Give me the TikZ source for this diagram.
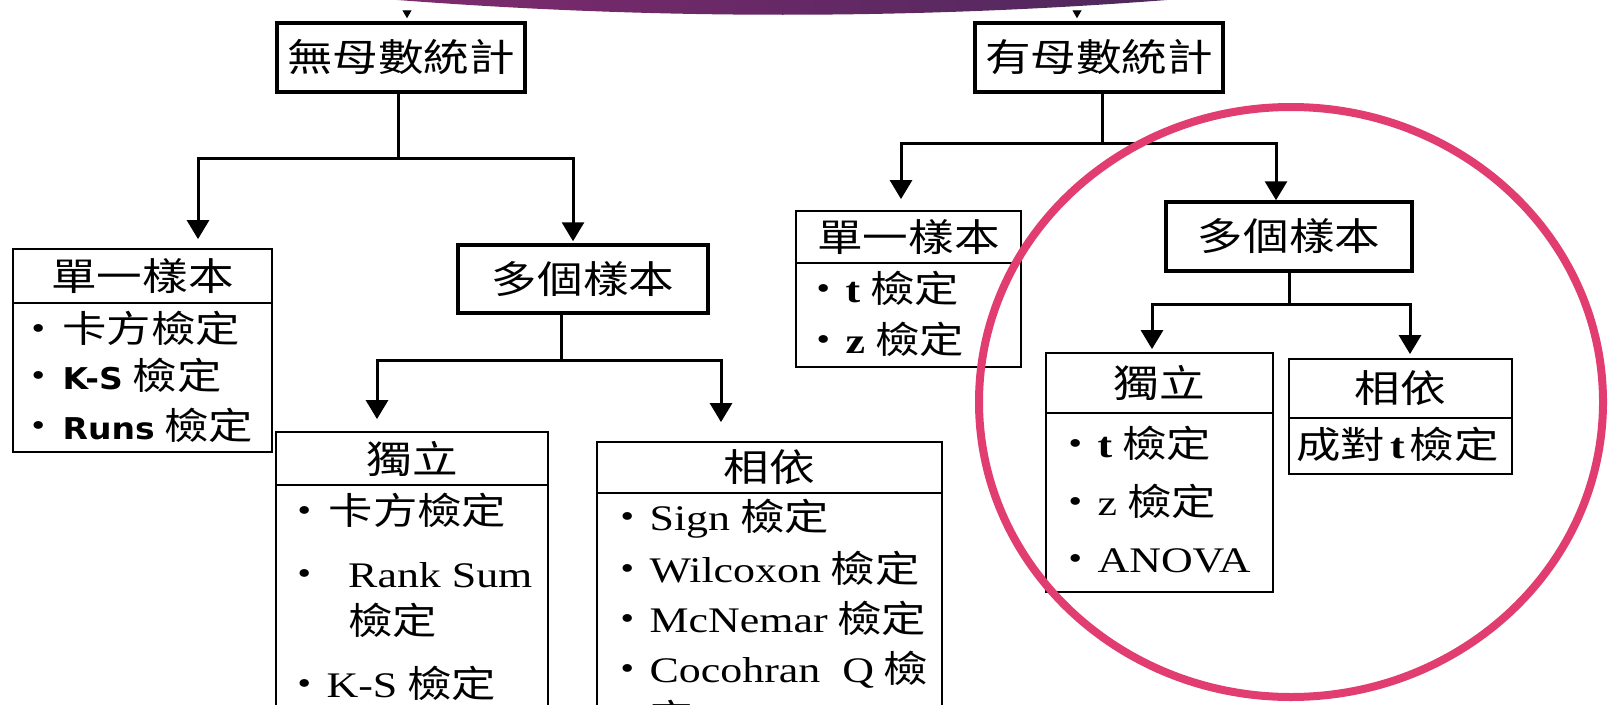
\documentclass[tikz,border=0pt]{standalone}
\usepackage{fontspec}
\usetikzlibrary{arrows.meta}
\newfontfamily\cjk{Noto Sans CJK TC}[FakeStretch=1.2]
\newfontfamily\lat{Liberation Serif}[FakeStretch=1.22]
\newfontfamily\bsans{DejaVu Sans}[FakeStretch=1.1]
\definecolor{ring}{RGB}{226,61,112}
\definecolor{bandL}{RGB}{130,42,112}
\definecolor{bandR}{RGB}{75,40,92}
\newcommand\myLT[1]{{\lat\fontsize{36}{40}\selectfont #1}}
\newcommand\myLB[1]{{\lat\bfseries\fontsize{36}{40}\selectfont #1}}
\newcommand\mySB[1]{{\bsans\bfseries\fontsize{30}{32}\selectfont #1}}
\tikzset{
  hdrfont/.style={font=\cjk\fontsize{38}{40}\selectfont},
  boxthick/.style={draw, line width=3.5pt, inner sep=0pt, hdrfont},
  boxthin/.style={draw, line width=1.8pt, inner sep=0pt, hdrfont},
  item/.style={anchor=base west, inner sep=0pt, font=\cjk\fontsize{37}{40}\selectfont},
  conn/.style={line width=3pt, line cap=rect},
  arr/.style={line width=3pt, -{Triangle[width=22pt,length=19pt]}},
  smallarr/.style={line width=1pt, -{Triangle[width=9pt,length=8pt]}},
}
\begin{document}
\begin{tikzpicture}[x=1pt,y=-1pt]
\useasboundingbox (0,0) rectangle (1613,704);
\fill[white] (0,0) rectangle (1613,704);
\clip (0,0) rectangle (1613,704);

% top band
\shade[left color=bandL, right color=bandR] (348,-4) .. controls (640,21) and (926,21) .. (1216,-4) -- cycle;

% top boxes
\node[boxthick, minimum width=248pt, minimum height=69pt] (A) at (401,57.5) {無母數統計};
\node[boxthick, minimum width=248pt, minimum height=69pt] (B) at (1099,57.5) {有母數統計};
\coordinate (tA) at (407,11);
\coordinate (tB) at (1077,11);
\draw[smallarr, shorten >=3pt] (tA) -- (tA |- A.north);
\draw[smallarr, shorten >=3pt] (tB) -- (tB |- B.north);

% ---------- left tree ----------
\node[boxthin, minimum width=259pt, minimum height=54pt] (Ch) at (142.5,276) {單一樣本};
\node[boxthin, minimum width=259pt, minimum height=149pt] (Cb) at (142.5,377.5) {};
\node[item] (c1) at (16,342) {・\hspace{2pt}卡方檢定};
\node[item] (c2) at (16,389) {・\hspace{2pt}\mySB{K-S} 檢定};
\node[item] (c3) at (16,439) {・\hspace{2pt}\mySB{Runs} 檢定};

\node[boxthick, minimum width=250pt, minimum height=68pt] (D) at (583,279) {多個樣本};

\coordinate (Lj) at (398,158);
\coordinate (Ll) at (198,158);
\coordinate (Lr) at (573,158);
\draw[conn] (A.south -| Lj) -- (Lj);
\draw[conn] (Ll) -- (Lr);
\draw[arr, shorten >=9pt] (Ll) -- (Ll |- Ch.north);
\draw[arr, shorten >=2pt] (Lr) -- (Lr |- D.north);

\node[boxthin, minimum width=272pt, minimum height=53pt] (Eh) at (412,458.5) {獨立};
\node[boxthin, minimum width=272pt, minimum height=255pt] (Eb) at (412,612.5) {};
\node[item] (e1) at (282,524) {・\hspace{2pt}卡方檢定};
\node[item] (e2) at (282,587) {・};
\node[item] (e2b) at (348,587) {\myLT{Rank Sum}};
\node[item] (e3) at (348,634) {檢定};
\node[item] (e4) at (282,697) {・\myLT{K-S} 檢定};

\node[boxthin, minimum width=345pt, minimum height=51pt] (Fh) at (769.5,467.5) {相依};
\node[boxthin, minimum width=345pt, minimum height=247pt] (Fb) at (769.5,616.5) {};
\node[item] (f1) at (605,530) {・\myLT{Sign} 檢定};
\node[item] (f2) at (605,582) {・\myLT{Wilcoxon} 檢定};
\node[item] (f3) at (605,632) {・\myLT{McNemar} 檢定};
\node[item] (f4) at (605,682) {・\myLT{Cocohran\ \ Q} 檢};
\node[item] (f5) at (649,731) {定};

\coordinate (Mj) at (561,360);
\coordinate (Ml) at (377,360);
\coordinate (Mr) at (721,360);
\draw[conn] (D.south -| Mj) -- (Mj);
\draw[conn] (Ml) -- (Mr);
\draw[arr, shorten >=12pt] (Ml) -- (Ml |- Eh.north);
\draw[arr, shorten >=19pt] (Mr) -- (Mr |- Fh.north);

% ---------- right tree ----------
\node[boxthin, minimum width=225pt, minimum height=52pt] (Gh) at (908.5,237) {單一樣本};
\node[boxthin, minimum width=225pt, minimum height=104pt] (Gb) at (908.5,315) {};
\node[item] (g1) at (801,302) {・\myLB{t} 檢定};
\node[item] (g2) at (801,353) {・\myLB{z} 檢定};

\node[boxthick, minimum width=246pt, minimum height=69pt] (H) at (1289,236.5) {多個樣本};

\coordinate (Rj) at (1102,143);
\coordinate (Rl) at (901,143);
\coordinate (Rr) at (1276,143);
\draw[conn] (B.south -| Rj) -- (Rj);
\draw[conn] (Rl) -- (Rr);
\draw[arr, shorten >=11pt] (Rl) -- (Rl |- Gh.north);
\draw[arr] (Rr) -- (Rr |- H.north);

\node[boxthin, minimum width=227pt, minimum height=60pt] (Ih) at (1159.5,383) {獨立};
\node[boxthin, minimum width=227pt, minimum height=179pt] (Ib) at (1159.5,502.5) {};
\node[item] (i1) at (1053,457) {・\myLB{t} 檢定};
\node[item] (i2) at (1053,515) {・\myLT{z} 檢定};
\node[item] (i3) at (1053,572) {・\myLT{ANOVA}};

\node[boxthin, minimum width=223pt, minimum height=59pt] (Jh) at (1400.5,388.5) {相依};
\node[boxthin, minimum width=223pt, minimum height=56pt] (Jb) at (1400.5,446) {};
\node[item] (j1) at (1296,458) {成對\hspace{5pt}\myLB{t}\hspace{5pt}檢定};

\coordinate (Hj) at (1289,304);
\coordinate (Hl) at (1152,304);
\coordinate (Hr) at (1410,304);
\draw[conn] (H.south -| Hj) -- (Hj);
\draw[conn] (Hl) -- (Hr);
\draw[arr, shorten >=3pt] (Hl) -- (Hl |- Ih.north);
\draw[arr, shorten >=4pt] (Hr) -- (Hr |- Jh.north);

% highlight ring
\draw[ring, line width=8pt] (1291,402) ellipse [x radius=312pt, y radius=295pt];
\end{tikzpicture}
\end{document}
